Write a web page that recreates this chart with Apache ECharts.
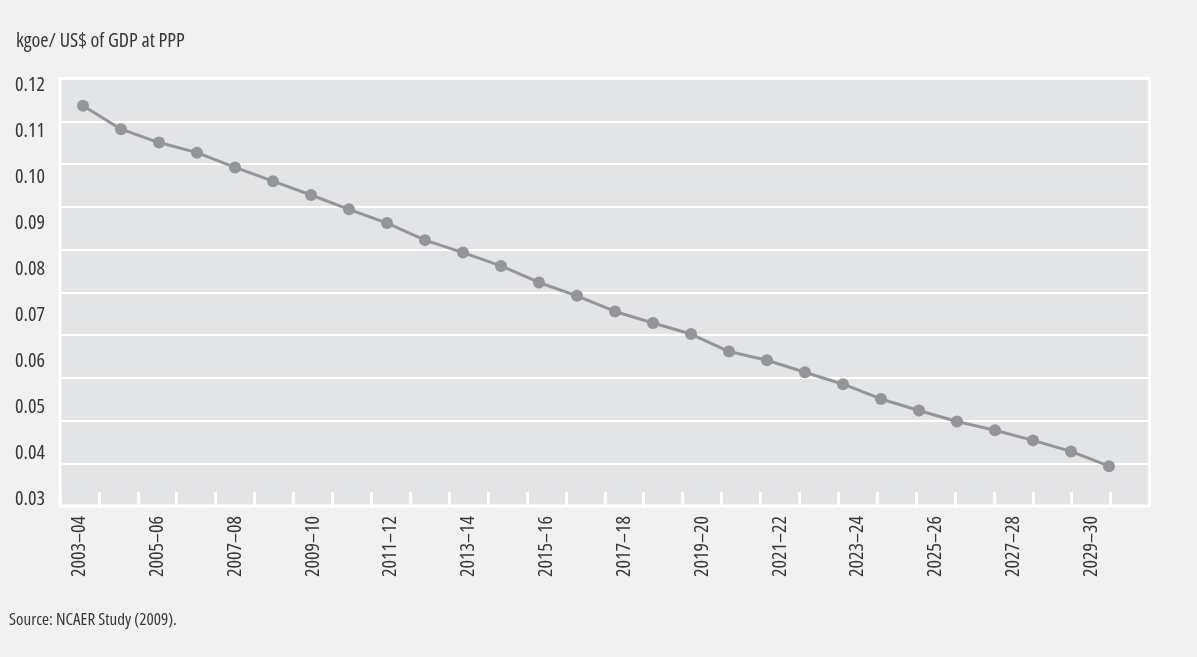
<!DOCTYPE html>
<html>
<head>
<meta charset="utf-8">
<title>Energy intensity projection</title>
<script src="https://cdn.jsdelivr.net/npm/echarts@6/dist/echarts.min.js"></script>
<style>
  html, body { margin: 0; padding: 0; background: #f1f1f1; }
  #chart { width: 1197px; height: 657px; }
</style>
</head>
<body>
<div id="chart"></div>
<script>
// Fiscal-year periods on the horizontal axis
const periods = [
  '2003–04', '2004–05', '2005–06', '2006–07', '2007–08', '2008–09', '2009–10',
  '2010–11', '2011–12', '2012–13', '2013–14', '2014–15', '2015–16', '2016–17',
  '2017–18', '2018–19', '2019–20', '2020–21', '2021–22', '2022–23', '2023–24',
  '2024–25', '2025–26', '2026–27', '2027–28', '2028–29', '2029–30', '2030–31'
];

// Energy intensity, kgoe per US$ of GDP at PPP
const intensity = [
  0.1155, 0.1104, 0.1075, 0.1053, 0.1021, 0.0991, 0.0961,
  0.0930, 0.0900, 0.0863, 0.0836, 0.0807, 0.0771, 0.0742,
  0.0708, 0.0683, 0.0659, 0.0621, 0.0602, 0.0576, 0.0550,
  0.0518, 0.0493, 0.0469, 0.0450, 0.0428, 0.0404, 0.0372
];

// Value-axis ticks
const yTicks = [0.03, 0.04, 0.05, 0.06, 0.07, 0.08, 0.09, 0.10, 0.11, 0.12];

const unitLabel = 'kgoe/ US$ of GDP at PPP';
const sourceNote = 'Source: NCAER Study (2009).';

// Narrow sans: Open Sans in its condensed width
const FONT = "'Open Sans', sans-serif";
const STRETCH = 'condensed';
const TEXT = '#363636';
const MARK = '#939598';

const txt = (size) => ({
  fontFamily: FONT, fontStyle: STRETCH, fontWeight: 'normal', fontSize: size, color: TEXT
});

const chart = echarts.init(document.getElementById('chart'), null, { renderer: 'canvas' });

chart.setOption({
  animation: false,
  backgroundColor: '#f1f1f1',
  title: [
    { text: unitLabel, left: 11, top: 26, textStyle: txt(20) },
    { text: sourceNote, left: 4, top: 607, textStyle: txt(17) }
  ],
  grid: [
    // shaded plot panel with banding and period ticks
    {
      left: 60, right: 47.5, top: 78.5, bottom: 151,
      show: true, backgroundColor: '#e3e4e5',
      borderColor: '#ffffff', borderWidth: 3
    },
    // data layer with value scale
    {
      left: 83, right: 88, top: 85, bottom: 157.7
    }
  ],
  xAxis: [
    {
      gridIndex: 0, type: 'category', data: periods, boundaryGap: true,
      axisLine: { show: false },
      axisTick: {
        show: true, inside: true, length: 14, interval: 0,
        lineStyle: { color: '#ffffff', width: 3 }
      },
      axisLabel: Object.assign({ interval: 1, rotate: 90, margin: 10 }, txt(20)),
      splitLine: { show: false }
    },
    {
      gridIndex: 1, type: 'category', data: periods, boundaryGap: false,
      show: false
    }
  ],
  yAxis: [
    {
      gridIndex: 0, type: 'value', min: 0, max: 10, interval: 1,
      axisLine: { show: false }, axisTick: { show: false }, axisLabel: { show: false },
      splitLine: { show: true, lineStyle: { color: '#ffffff', width: 2 } }
    },
    {
      gridIndex: 1, type: 'value',
      min: yTicks[0], max: yTicks[yTicks.length - 1], interval: 0.01,
      axisLine: { show: false }, axisTick: { show: false },
      splitLine: { show: false },
      axisLabel: Object.assign({ margin: 38, formatter: v => v.toFixed(2) }, txt(20))
    }
  ],
  series: [
    {
      type: 'line', xAxisIndex: 1, yAxisIndex: 1,
      data: intensity,
      symbol: 'circle', symbolSize: 12,
      lineStyle: { color: MARK, width: 3 },
      itemStyle: { color: MARK },
      z: 5
    }
  ]
});
</script>
</body>
</html>
